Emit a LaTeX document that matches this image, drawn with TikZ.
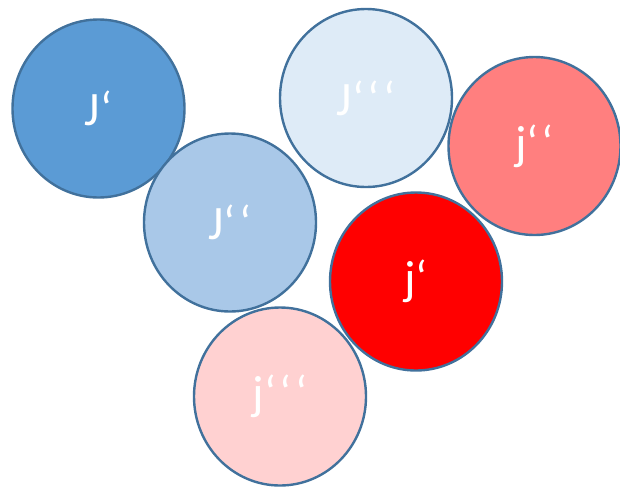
\documentclass[tikz,border=0pt]{standalone}
\usepackage{fontspec}
\setmainfont{Carlito}
\usetikzlibrary{shapes.geometric}
\definecolor{rimblue}{RGB}{65,113,156}
\definecolor{deepblue}{RGB}{91,155,213}
\definecolor{midblue}{RGB}{169,200,232}
\definecolor{paleblue}{RGB}{222,235,247}
\definecolor{midred}{RGB}{255,127,127}
\definecolor{palered}{RGB}{255,209,209}
\newcommand{\qgap}{\kern3.5pt}

\begin{document}
\begin{tikzpicture}[x=1pt,y=-1pt,
  disc/.style={ellipse,draw=rimblue,line width=2.4pt,minimum width=172pt,minimum height=178pt,
    inner sep=0pt,text=white,font=\fontsize{48}{52}\selectfont}]
\useasboundingbox (0,0) rectangle (620,488);
\node[disc,fill=deepblue] (Jone) at (98.5,108.5) {J‘};
\node[disc,fill=midblue] (Jtwo) at (230,222.5) {J‘\qgap‘};
\node[disc,fill=paleblue] (Jthree) at (366,98) {J‘\qgap‘\qgap‘};
\node[disc,fill=midred] (jtwo) at (534.5,146) {j‘\qgap‘};
\node[disc,fill=red] (jone) at (416,281.5) {j‘};
\node[disc,fill=palered] (jthree) at (280,396.5) {j‘\qgap‘\qgap‘};
\end{tikzpicture}
\end{document}
